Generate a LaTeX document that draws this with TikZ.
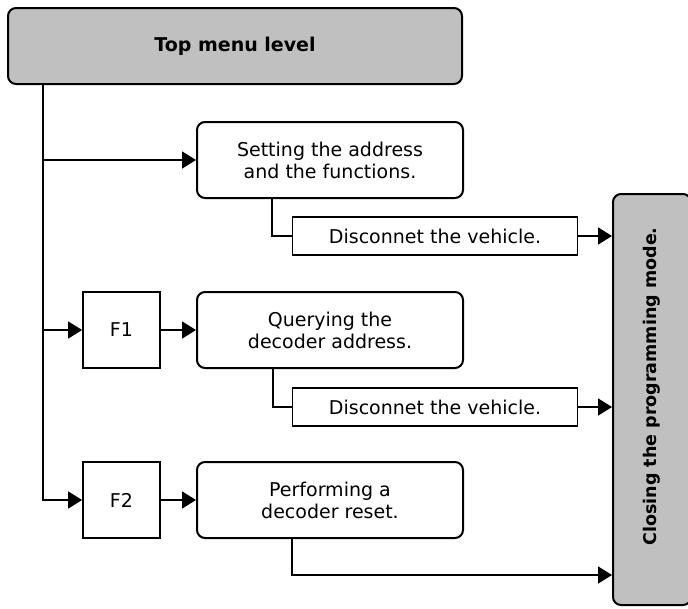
\documentclass[tikz,border=0pt]{standalone}
\usepackage{fontspec}
\setmainfont{DejaVu Sans}
\usetikzlibrary{arrows.meta}
\definecolor{menugray}{HTML}{C0C0C0}
\begin{document}
\begin{tikzpicture}[x=1pt, y=-1pt,
  nodes={align=center, inner sep=0pt, font=\fontsize{19}{22}\selectfont},
  menu/.style={draw, fill=menugray, rounded corners=8pt, line width=2pt, font=\fontsize{19}{22}\selectfont\bfseries},
  task/.style={draw, rounded corners=8pt, line width=2pt, minimum width=266pt, minimum height=76pt},
  key/.style={draw, line width=1.8pt, minimum width=77pt, minimum height=76pt},
  leave/.style={draw, line width=1.8pt, minimum width=285pt, minimum height=38pt},
  conn/.style={line width=1.7pt, -{Triangle[length=14pt,width=17pt]}}]
\useasboundingbox (0,0) rectangle (688,608);
\node[menu, minimum width=454pt, minimum height=76pt](top) at (235,46) {Top menu level};
\node[menu, rotate=90, minimum width=411pt, minimum height=78pt, font=\fontsize{17.5}{22}\selectfont\bfseries](close) at (652,399.5) {\hspace*{26pt}Closing the programming mode.};
\node[task](set) at (330,160) {Setting the address\\and the functions.};
\node[leave](dis1) at (435,236) {Disconnet the vehicle.};
\node[key](f1) at (121.5,330) {F1};
\node[task](query) at (330,330) {Querying the\\decoder address.};
\node[leave](dis2) at (435,407) {Disconnet the vehicle.};
\node[key](f2) at (121.5,500) {F2};
\node[task](reset) at (330,500) {Performing a\\decoder reset.};
\coordinate (trunk) at ([xshift=36pt]top.south west);
\coordinate (back) at (close.north |- 0,575);
\draw[conn] (trunk) |- (f2.west);
\draw[conn] (trunk |- set.west) -- (set.west);
\draw[conn] (trunk |- f1.west) -- (f1.west);
\draw[conn] (f1.east) -- (query.west);
\draw[conn] (f2.east) -- (reset.west);
\draw[line width=1.7pt] ([xshift=76pt]set.south west) |- (dis1.west);
\draw[line width=1.7pt] ([xshift=77pt]query.south west) |- (dis2.west);
\draw[conn] (dis1.east) -- (dis1.east -| close.north);
\draw[conn] (dis2.east) -- (dis2.east -| close.north);
\draw[conn] ([xshift=96pt]reset.south west) |- (back);
\end{tikzpicture}
\end{document}
